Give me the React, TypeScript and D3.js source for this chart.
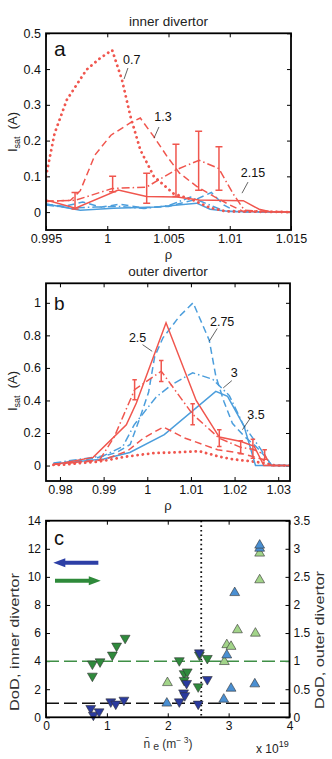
import React, { useEffect, useRef } from "react";
import * as d3 from "d3";

type Pt = [number, number];

// ---------- panel a : inner divertor, Isat (A) vs rho ----------
const aRhoTicks = [0.995, 1, 1.005, 1.01, 1.015];
const aIsatTicks = [0, 0.1, 0.2, 0.3, 0.4, 0.5];

// red: dotted 0.7, dashed 1.3, dash-dot 2.15 (error bars), solid
const aRedDotted: Pt[] = [[0.995, 0.1], [0.9957, 0.22], [0.9967, 0.314], [0.9983, 0.398], [0.9994, 0.43], [1.0004, 0.453], [1.0012, 0.37], [1.0019, 0.267], [1.0027, 0.174], [1.0038, 0.1], [1.0054, 0.052], [1.007, 0.034], [1.0084, 0.012], [1.0097, 0.002], [1.015, 0]];
const aRedDashed: Pt[] = [[0.995, 0.03], [0.997, 0.033], [0.9978, 0.06], [0.999, 0.16], [1.0003, 0.215], [1.0019, 0.25], [1.0027, 0.263], [1.0038, 0.211], [1.0049, 0.155], [1.0059, 0.109], [1.0073, 0.072], [1.0087, 0.044], [1.01, 0.02], [1.0111, 0.002], [1.015, 0]];
const aRedDashDot: Pt[] = [[0.995, 0.03], [0.9974, 0.033], [1.0004, 0.066], [1.0032, 0.07], [1.0056, 0.118], [1.0075, 0.145], [1.0091, 0.122], [1.0103, 0.05], [1.0112, 0.005], [1.015, 0]];
const aRedSolid: Pt[] = [[0.995, 0.034], [0.9974, 0.011], [1.0009, 0.062], [1.0032, 0.044], [1.0057, 0.042], [1.0075, 0.034], [1.0111, 0.032], [1.0124, 0.008], [1.0133, 0.001], [1.015, 0]];
// blue
const aBlueDashed: Pt[] = [[0.995, 0.022], [0.9965, 0.016], [0.998, 0.028], [0.9995, 0.014], [1.001, 0.022], [1.003, 0.012], [1.005, 0.016], [1.0072, 0.035], [1.0085, 0.055], [1.0095, 0.02], [1.0105, 0.002], [1.015, 0]];
const aBlueDashDot: Pt[] = [[0.995, 0.02], [0.997, 0.012], [0.999, 0.014], [1.001, 0.016], [1.003, 0.01], [1.005, 0.018], [1.0068, 0.042], [1.008, 0.025], [1.0095, 0.004], [1.011, 0], [1.015, 0]];
const aBlueSolid: Pt[] = [[0.995, 0.023], [0.9978, 0.005], [1.0005, 0.011], [1.004, 0.014], [1.0073, 0.025], [1.0084, 0.008], [1.01, 0.002], [1.015, 0]];
const aErrRho = [0.99737, 1.00044, 1.00322, 1.00561, 1.00746, 1.00912];
const aErrLo = [0.009, 0.057, 0.025, 0.044, 0.061, 0.061];
const aErrHi = [0.055, 0.1, 0.109, 0.19, 0.226, 0.183];
const aLabels = ["0.7", "1.3", "2.15"];
const aLabelAt: Pt[] = [[1.002, 0.426], [1.00455, 0.266], [1.0119, 0.112]];
const aLeaderFrom: Pt[] = [[1.00169, 0.403], [1.00422, 0.238], [1.01149, 0.084]];
const aLeaderTo: Pt[] = [[1.00137, 0.372], [1.00382, 0.207], [1.011, 0.053]];

// ---------- panel b : outer divertor ----------
const bRhoTicks = [0.98, 0.99, 1, 1.01, 1.02, 1.03];
const bIsatTicks = [0, 0.2, 0.4, 0.6, 0.8, 1];

const bRedDotted: Pt[] = [[0.9785, 0.004], [0.98, 0.004], [0.9891, 0.025], [0.9952, 0.055], [1.0013, 0.076], [1.0074, 0.082], [1.0119, 0.088], [1.0165, 0.055], [1.0195, 0.039], [1.0241, 0.025], [1.0271, 0.014], [1.0294, 0], [1.0327, 0]];
const bRedDashed: Pt[] = [[0.9785, 0.008], [0.99, 0.035], [0.9955, 0.09], [0.9992, 0.17], [1.0037, 0.237], [1.0085, 0.17], [1.0161, 0.097], [1.0214, 0.076], [1.0262, 0.04], [1.0285, 0], [1.0327, 0]];
const bRedDashDot: Pt[] = [[0.9785, 0.008], [0.989, 0.03], [0.9925, 0.18], [0.9971, 0.466], [1.0032, 0.58], [1.0104, 0.315], [1.0165, 0.168], [1.0214, 0.112], [1.0242, 0.1], [1.0269, 0.068], [1.0282, 0], [1.0327, 0]];
const bRedSolid: Pt[] = [[0.9785, 0.005], [0.9876, 0.05], [0.9952, 0.25], [0.9975, 0.384], [1.0043, 0.877], [1.0112, 0.4], [1.0165, 0.175], [1.0215, 0.148], [1.0245, 0.118], [1.0267, 0], [1.0327, 0]];
const bBlueDashed: Pt[] = [[0.9785, 0.01], [0.988, 0.045], [0.993, 0.08], [0.9961, 0.13], [0.9984, 0.3], [1.0003, 0.45], [1.0017, 0.67], [1.0036, 0.785], [1.0074, 0.918], [1.0105, 1.0], [1.0142, 0.77], [1.0157, 0.55], [1.0176, 0.39], [1.0195, 0.26], [1.0222, 0.18], [1.0248, 0.12], [1.0272, 0.05], [1.0285, 0], [1.0327, 0]];
const bBlueDashDot: Pt[] = [[0.9785, 0.015], [0.99, 0.06], [0.9944, 0.117], [0.997, 0.25], [1.002, 0.42], [1.0058, 0.5], [1.0104, 0.57], [1.015, 0.53], [1.0188, 0.43], [1.022, 0.25], [1.0255, 0.12], [1.0285, 0], [1.0327, 0]];
const bBlueSolid: Pt[] = [[0.9785, 0.01], [0.99, 0.04], [0.996, 0.08], [1.0039, 0.19], [1.0157, 0.456], [1.0184, 0.425], [1.0222, 0.24], [1.0248, 0], [1.0327, 0]];
const bErrRho = [0.9971, 1.0032, 1.0104, 1.0165, 1.0214, 1.0242, 1.0269];
const bErrLo = [0.405, 0.517, 0.25, 0.117, 0.072, 0.045, 0.039];
const bErrHi = [0.528, 0.645, 0.38, 0.22, 0.152, 0.162, 0.097];
const bLabels = ["2.5", "2.75", "3", "3.5"];
const bLabelAt: Pt[] = [[0.99778, 0.786], [1.01716, 0.885], [1.0199, 0.571], [1.02492, 0.312]];
const bLeaderFrom: Pt[] = [[0.99892, 0.743], [1.01602, 0.842], [1.01938, 0.522], [1.02348, 0.286]];
const bLeaderTo: Pt[] = [[1.00113, 0.702], [1.0142, 0.764], [1.0174, 0.477], [1.0218, 0.22]];

// ---------- panel c : DoD vs line density (1e19 m^-3) ----------
const cDensTicks = [0, 1, 2, 3, 4];
const cInnerTicks = [0, 2, 4, 6, 8, 10, 12, 14];
const cOuterTicks = [0, 0.5, 1, 1.5, 2, 2.5, 3, 3.5];
// inner divertor DoD (left axis)
const navyDownX = [0.735, 0.778, 0.872, 1.064, 1.146, 1.28, 2.19, 2.26, 2.28, 2.31, 2.5, 2.52, 2.65];
const navyDownY = [0.64, 0.16, 0.4, 1.11, 0.95, 1.23, 1.11, 1.75, 1.55, 2.42, 0.95, 4.6, 2.7];
const blueUpX = [1.985, 2.92, 3.04, 3.43, 2.97, 3.1, 3.51, 3.51];
const blueUpY = [1.0, 1.28, 2.06, 2.37, 4.43, 8.87, 12.03, 12.25];
// outer divertor DoD (right axis)
const greenDownX = [0.762, 0.888, 0.762, 1.09, 1.16, 1.3, 2.19, 2.27, 2.32, 2.27, 2.5, 2.52, 2.65];
const greenDownY = [0.95, 0.99, 0.735, 1.11, 1.27, 1.41, 1.01, 0.78, 0.81, 0.66, 0.545, 1.11, 1.05];
const lightGreenUpX = [1.995, 2.93, 2.97, 3.04, 3.145, 3.44, 3.51, 3.51];
const lightGreenUpY = [0.615, 0.99, 1.29, 1.26, 1.555, 1.495, 2.445, 2.92];
const cInnerRef = 1; // black dashed, left axis
const cOuterRef = 1; // green dashed, right axis
const cDensLimit = 2.55; // dotted vertical

const FONT = "'Liberation Sans', Arial, Helvetica, sans-serif";
const RED = "#f0564e";
const BLUE = "#4c9edc";
const DASH: Record<string, string | null> = {
  solid: null,
  dashed: "7 4",
  dashdot: "8 3 1.5 3",
  dotted: "0.1 5.2",
};

const fmt = (d: number) => `${+d.toFixed(4)}`;

function axes(g: any, x: any, y: any, box: any, xt: number[], yt: number[], fs = 12.5) {
  const style = (sel: any) => {
    sel.select(".domain").remove();
    sel.selectAll("line").attr("stroke", "#000");
    sel.selectAll("text").attr("font-family", FONT).attr("font-size", fs).attr("fill", "#111");
  };
  g.append("g").attr("transform", `translate(0,${box.y1})`)
    .call(d3.axisBottom(x).tickValues(xt).tickSize(-4).tickPadding(4).tickFormat(fmt)).call(style);
  g.append("g").attr("transform", `translate(0,${box.y0})`)
    .call(d3.axisTop(x).tickValues(xt).tickSize(-4).tickFormat(() => "")).call(style);
  g.append("g").attr("transform", `translate(${box.x0},0)`)
    .call(d3.axisLeft(y).tickValues(yt).tickSize(-4).tickPadding(5).tickFormat(fmt)).call(style);
}

function drawProfile(svg: any, cfg: any) {
  const { box, xDomain, yDomain, xTicks, yTicks, curves, err, capW, labels, labelAt, from, to } = cfg;
  const x = d3.scaleLinear().domain(xDomain).range([box.x0, box.x1]);
  const y = d3.scaleLinear().domain(yDomain).range([box.y1, box.y0]);
  const g = svg.append("g");

  const clipId = `clip-${cfg.letter}`;
  g.append("clipPath").attr("id", clipId).append("rect")
    .attr("x", box.x0).attr("y", box.y0).attr("width", box.x1 - box.x0).attr("height", box.y1 - box.y0);

  axes(g, x, y, box, xTicks, yTicks);
  g.append("g").attr("transform", `translate(${box.x1},0)`)
    .call(d3.axisRight(y).tickValues(yTicks).tickSize(-4).tickFormat(() => ""))
    .call((s: any) => s.select(".domain").remove());

  const line = d3.line<Pt>().x((d) => x(d[0])).y((d) => y(d[1]));
  const cg = g.append("g").attr("clip-path", `url(#${clipId})`);
  curves.forEach((c: any) => {
    cg.append("path").attr("d", line(c.data)).attr("fill", "none")
      .attr("stroke", c.color)
      .attr("stroke-width", c.style === "dotted" ? 2.8 : 1.5)
      .attr("stroke-linecap", c.style === "dotted" ? "round" : "butt")
      .attr("stroke-dasharray", DASH[c.style]);
  });

  // error bars on the dash-dot red curve
  const eb = cg.append("g").attr("stroke", RED).attr("stroke-width", 1.5);
  err.rho.forEach((r: number, i: number) => {
    const cx = x(r);
    eb.append("line").attr("x1", cx).attr("x2", cx).attr("y1", y(err.lo[i])).attr("y2", y(err.hi[i]));
    [err.lo[i], err.hi[i]].forEach((v: number) =>
      eb.append("line").attr("x1", cx - capW / 2).attr("x2", cx + capW / 2).attr("y1", y(v)).attr("y2", y(v)));
  });

  labels.forEach((t: string, i: number) => {
    g.append("text").attr("x", x(labelAt[i][0])).attr("y", y(labelAt[i][1]) + 4.5)
      .attr("text-anchor", "middle").attr("font-family", FONT).attr("font-size", 12.5).attr("fill", "#111").text(t);
    g.append("line").attr("x1", x(from[i][0])).attr("y1", y(from[i][1]))
      .attr("x2", x(to[i][0])).attr("y2", y(to[i][1])).attr("stroke", "#222").attr("stroke-width", 0.7);
  });

  g.append("rect").attr("x", box.x0).attr("y", box.y0).attr("width", box.x1 - box.x0)
    .attr("height", box.y1 - box.y0).attr("fill", "none").attr("stroke", "#000").attr("stroke-width", 1.8);

  const cx = (box.x0 + box.x1) / 2;
  g.append("text").attr("x", cx).attr("y", box.y0 - 7).attr("text-anchor", "middle")
    .attr("font-family", FONT).attr("font-size", 13.5).attr("fill", "#222").text(cfg.title);
  g.append("text").attr("x", cx).attr("y", box.y1 + 29).attr("text-anchor", "middle")
    .attr("font-family", FONT).attr("font-size", 13).attr("fill", "#222").text("ρ");
  g.append("text").attr("x", box.x0 + 8).attr("y", box.y0 + cfg.letterDy)
    .attr("font-family", FONT).attr("font-size", cfg.letterSize).attr("fill", "#111").text(cfg.letter);

  const yl = g.append("text").attr("transform", `translate(17,${cfg.ylabY}) rotate(-90)`)
    .attr("text-anchor", "middle").attr("font-family", FONT).attr("font-size", 13).attr("fill", "#222");
  yl.append("tspan").text("I");
  yl.append("tspan").attr("dy", 3).attr("font-size", 9).text("sat");
  yl.append("tspan").attr("dy", -3).text("\u00a0 (A)");
}

function drawDoD(svg: any) {
  const box = { x0: 46, x1: 289.5, y0: 520.7, y1: 717.3 };
  const x = d3.scaleLinear().domain([0, 4]).range([box.x0, box.x1]);
  const yL = d3.scaleLinear().domain([0, 14]).range([box.y1, box.y0]);
  const yR = d3.scaleLinear().domain([0, 3.5]).range([box.y1, box.y0]);
  const g = svg.append("g");

  axes(g, x, yL, box, cDensTicks, cInnerTicks, 12);
  g.append("g").attr("transform", `translate(${box.x1},0)`)
    .call(d3.axisRight(yR).tickValues(cOuterTicks).tickSize(-4).tickPadding(4).tickFormat(fmt))
    .call((s: any) => {
      s.select(".domain").remove();
      s.selectAll("text").attr("font-family", FONT).attr("font-size", 12).attr("fill", "#111");
    });

  // reference lines
  g.append("line").attr("x1", box.x0).attr("x2", box.x1).attr("y1", yR(cOuterRef)).attr("y2", yR(cOuterRef))
    .attr("stroke", "#3f8f46").attr("stroke-width", 1.5).attr("stroke-dasharray", "13 5");
  g.append("line").attr("x1", box.x0).attr("x2", box.x1).attr("y1", yL(cInnerRef)).attr("y2", yL(cInnerRef))
    .attr("stroke", "#111").attr("stroke-width", 1.5).attr("stroke-dasharray", "13 5");
  g.append("line").attr("x1", x(cDensLimit)).attr("x2", x(cDensLimit)).attr("y1", box.y0).attr("y2", box.y1)
    .attr("stroke", "#111").attr("stroke-width", 1.8).attr("stroke-dasharray", "1.6 3");

  const tri = d3.symbol().type(d3.symbolTriangle).size(42);
  const series = [
    { xs: greenDownX, ys: greenDownY, s: yR, down: true, fill: "#2f8a3c" },
    { xs: navyDownX, ys: navyDownY, s: yL, down: true, fill: "#2a3a9e" },
    { xs: lightGreenUpX, ys: lightGreenUpY, s: yR, down: false, fill: "#a2d489" },
    { xs: blueUpX, ys: blueUpY, s: yL, down: false, fill: "#4a8fd2" },
  ];
  series.forEach((ser) => {
    const pts = ser.xs.map((v, i) => [v, ser.ys[i]] as Pt);
    g.append("g").selectAll("path").data(pts).join("path")
      .attr("d", tri as any)
      .attr("transform", (d: Pt) => `translate(${x(d[0])},${ser.s(d[1])})${ser.down ? " rotate(180)" : ""}`)
      .attr("fill", ser.fill).attr("stroke", "#333").attr("stroke-width", 0.6);
  });

  // axis-direction arrows
  const arrow = (x0: number, x1: number, yv: number, color: string) => {
    const a = x(x0), b = x(x1), yy = yL(yv);
    const dir = Math.sign(b - a), head = 12;
    const p = d3.path();
    p.moveTo(a, yy - 2); p.lineTo(b - dir * head, yy - 2); p.lineTo(b - dir * head, yy - 4.5);
    p.lineTo(b, yy); p.lineTo(b - dir * head, yy + 4.5); p.lineTo(b - dir * head, yy + 2);
    p.lineTo(a, yy + 2); p.closePath();
    g.append("path").attr("d", p.toString()).attr("fill", color);
  };
  arrow(0.86, 0.12, 11.0, "#2d3fa6");
  arrow(0.148, 0.9, 9.72, "#2e8a3a");

  g.append("rect").attr("x", box.x0).attr("y", box.y0).attr("width", box.x1 - box.x0)
    .attr("height", box.y1 - box.y0).attr("fill", "none").attr("stroke", "#000").attr("stroke-width", 1.8);

  g.append("text").attr("x", box.x0 + 8).attr("y", box.y0 + 24)
    .attr("font-family", FONT).attr("font-size", 20).attr("fill", "#111").text("c");

  const lab = (tx: number, ty: number, t: string) =>
    g.append("text").attr("transform", `translate(${tx},${ty}) rotate(-90)`).attr("text-anchor", "middle")
      .attr("font-family", FONT).attr("font-size", 13).attr("fill", "#333")
      .attr("textLength", 138).attr("lengthAdjust", "spacingAndGlyphs").text(t);
  lab(19, 642, "DoD, inner divertor");
  lab(324, 640, "DoD, outer divertor");

  const xl = g.append("text").attr("x", 168).attr("y", 748).attr("text-anchor", "middle")
    .attr("font-family", FONT).attr("font-size", 12).attr("fill", "#333");
  xl.append("tspan").text("n\u0304");
  xl.append("tspan").attr("dy", 2).attr("font-size", 10.5).text(" e");
  xl.append("tspan").attr("dy", -2).text(" (m");
  xl.append("tspan").attr("dy", -5).attr("font-size", 8.5).text("\u2212 3");
  xl.append("tspan").attr("dy", 5).text(")");

  const xs = g.append("text").attr("x", 256).attr("y", 753)
    .attr("font-family", FONT).attr("font-size", 12).attr("fill", "#222");
  xs.append("tspan").text("x 10");
  xs.append("tspan").attr("dy", -6).attr("font-size", 9).text("19");
}

export default function App() {
  const ref = useRef<SVGSVGElement>(null);

  useEffect(() => {
    const svg = d3.select(ref.current);
    svg.selectAll("*").remove();

    drawProfile(svg, {
      letter: "a", letterSize: 21, letterDy: 23, title: "inner divertor", ylabY: 132,
      box: { x0: 46, x1: 291, y0: 33.3, y1: 230 },
      xDomain: [0.995, 1.015], yDomain: [-0.05, 0.5], xTicks: aRhoTicks, yTicks: aIsatTicks,
      curves: [
        { data: aBlueDashed, color: BLUE, style: "dashed" },
        { data: aBlueDashDot, color: BLUE, style: "dashdot" },
        { data: aBlueSolid, color: BLUE, style: "solid" },
        { data: aRedDotted, color: RED, style: "dotted" },
        { data: aRedDashed, color: RED, style: "dashed" },
        { data: aRedDashDot, color: RED, style: "dashdot" },
        { data: aRedSolid, color: RED, style: "solid" },
      ],
      err: { rho: aErrRho, lo: aErrLo, hi: aErrHi }, capW: 7,
      labels: aLabels, labelAt: aLabelAt, from: aLeaderFrom, to: aLeaderTo,
    });

    drawProfile(svg, {
      letter: "b", letterSize: 19, letterDy: 27, title: "outer divertor", ylabY: 391,
      box: { x0: 46, x1: 290, y0: 283.3, y1: 481 },
      xDomain: [0.9768, 1.0327], yDomain: [-0.095, 1.12], xTicks: bRhoTicks, yTicks: bIsatTicks,
      curves: [
        { data: bRedDotted, color: RED, style: "dotted" },
        { data: bBlueDashed, color: BLUE, style: "dashed" },
        { data: bBlueDashDot, color: BLUE, style: "dashdot" },
        { data: bBlueSolid, color: BLUE, style: "solid" },
        { data: bRedDashed, color: RED, style: "dashed" },
        { data: bRedDashDot, color: RED, style: "dashdot" },
        { data: bRedSolid, color: RED, style: "solid" },
      ],
      err: { rho: bErrRho, lo: bErrLo, hi: bErrHi }, capW: 4.5,
      labels: bLabels, labelAt: bLabelAt, from: bLeaderFrom, to: bLeaderTo,
    });

    drawDoD(svg);
  }, []);

  return (
    <svg ref={ref} width={332} height={759}
      style={{ position: "absolute", left: 0, top: 0, background: "#fff" }} />
  );
}
